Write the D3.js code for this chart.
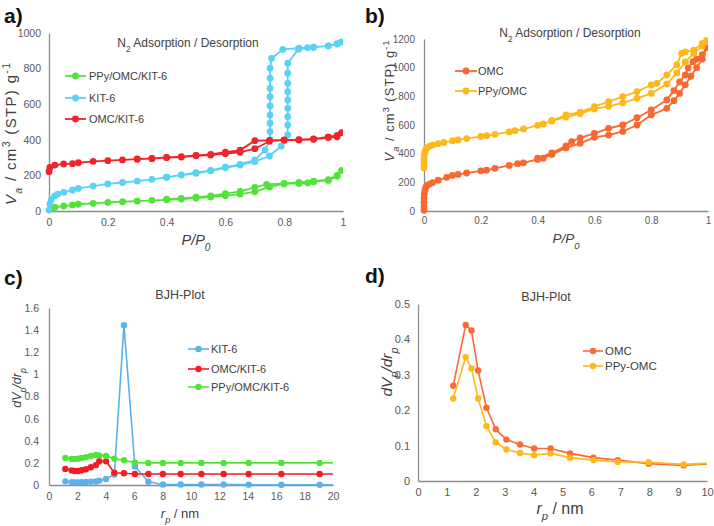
<!DOCTYPE html>
<html><head><meta charset="utf-8">
<script src="https://cdn.jsdelivr.net/npm/d3@7"></script>
<style>
body{margin:0;background:#fff}
svg{display:block}
text{font-family:"Liberation Sans",Arial,sans-serif}
</style>
</head><body>
<svg id="chart" width="714" height="526"></svg>
<script>
// ---------- Panel a: N2 isotherms ----------
const aX = [0, 1];
const aYTicks = [0, 200, 400, 600, 800, 1000];
const aXTicks = [0, 0.2, 0.4, 0.6, 0.8, 1];
const aPPyP = [0.01,0.02,0.05,0.08,0.1,0.15,0.2,0.25,0.3,0.35,0.4,0.45,0.5,0.55,0.6,0.65,0.7,0.75,0.8,0.85,0.88,0.9,0.95,0.98,0.995,
               0.98,0.95,0.9,0.85,0.8,0.74,0.7,0.65,0.6,0.55,0.5,0.45,0.4];
const aPPyV = [15,21,28,34,38,43,48,52,56,60,63,67,72,78,86,95,108,135,152,155,158,165,172,195,228,
               200,176,168,160,155,150,133,110,98,85,78,71,66];
const aKITP = [0,0.003,0.008,0.02,0.03,0.05,0.08,0.1,0.15,0.2,0.25,0.3,0.35,0.4,0.45,0.5,0.55,0.6,0.65,0.7,0.75,0.79,
               0.812,0.812,0.812,0.812,0.812,0.812,0.812,0.812,0.812,0.848,0.88,0.9,0.95,0.98,0.995,
               0.98,0.95,0.9,0.85,0.795,0.757,0.752,0.752,0.752,0.752,0.752,0.752,0.752,0.752,0.752,0.735,0.7,0.65,0.6,0.55,0.5,0.45,0.4];
const aKITV = [5,40,65,85,95,105,118,127,140,152,160,168,178,189,202,212,226,243,258,277,309,365,
               427,483,530,577,624,670,717,774,830,908,918,920,928,940,950,
               938,928,920,915,908,857,802,746,689,642,590,539,493,446,399,343,287,262,247,228,215,203,190];
const aOMCP = [0,0.003,0.02,0.05,0.08,0.1,0.15,0.2,0.25,0.3,0.35,0.4,0.45,0.5,0.55,0.6,0.65,0.7,0.75,0.8,0.85,0.9,0.95,0.98,0.995,
               0.98,0.95,0.9,0.85,0.8,0.75,0.7,0.65,0.6,0.55,0.5,0.45,0.4,0.35,0.3];
const aOMCV = [221,245,258,264,266,271,279,283,287,291,294,300,303,310,314,322,330,350,392,398,399,403,413,417,440,
               425,416,405,401,400,397,395,342,330,318,313,306,301,296,292];

// ---------- Panel b: N2 isotherms ----------
const bYTicks = [0, 200, 400, 600, 800, 1000, 1200];
const bXTicks = [0, 0.2, 0.4, 0.6, 0.8, 1];
const bOMCP = [0,0,0,0,0.001,0.003,0.006,0.01,0.02,0.03,0.05,0.08,0.1,0.12,0.15,0.2,0.22,0.25,0.3,0.33,0.35,0.4,0.42,0.45,0.5,0.55,0.6,0.65,0.7,0.75,0.8,0.855,0.88,0.9,0.92,0.94,0.96,0.98,0.995,
               0.98,0.96,0.947,0.93,0.92,0.9,0.88,0.855,0.8,0.75,0.7,0.65,0.6,0.55,0.52,0.5,0.45,0.4];
const bOMCV = [5,30,60,90,120,145,165,178,188,198,215,235,248,255,265,280,285,298,318,330,336,360,368,395,440,472,514,530,555,600,670,716,770,820,880,940,1000,1060,1140,
               1090,1060,1042,998,949,900,840,775,705,651,600,577,542,510,484,455,405,368];
const bPPyP = [0,0,0,0.001,0.003,0.006,0.01,0.02,0.03,0.05,0.07,0.1,0.12,0.15,0.2,0.22,0.25,0.3,0.32,0.35,0.4,0.42,0.45,0.5,0.55,0.6,0.65,0.7,0.75,0.8,0.855,0.89,0.92,0.95,0.98,0.995,
               0.98,0.95,0.92,0.907,0.89,0.855,0.82,0.8,0.75,0.7,0.65,0.6,0.55,0.5,0.45];
const bPPyV = [300,330,360,390,410,428,440,452,460,470,478,490,496,505,520,525,535,552,560,572,598,607,628,655,680,712,730,755,786,820,886,963,1040,1100,1150,1190,
               1170,1123,1110,1100,1019,949,891,879,833,798,763,728,690,670,630];

// ---------- Panel c: BJH ----------
const cYTicks = [0, 0.2, 0.4, 0.6, 0.8, 1, 1.2, 1.4, 1.6];
const cXTicks = [0, 2, 4, 6, 8, 10, 12, 14, 16, 18, 20];
const cR = [1.15,1.6,1.82,2.05,2.3,2.6,2.95,3.3,3.54,4.02,4.6,5.28,6.05,7.0,8.02,9.27,10.73,12.3,14.06,16.36,19.06,23];
const cKIT = [0.033,0.025,0.024,0.024,0.025,0.027,0.03,0.032,0.04,0.054,0.095,1.445,0.168,0.03,0.004,0.004,0.004,0.004,0.003,0.002,0.002,0.0];
const cOMC = [0.145,0.132,0.126,0.126,0.133,0.143,0.16,0.18,0.215,0.214,0.111,0.106,0.1,0.1,0.1,0.1,0.1,0.1,0.1,0.1,0.1,0.1];
const cPPy = [0.245,0.236,0.236,0.238,0.244,0.252,0.262,0.272,0.268,0.262,0.238,0.224,0.202,0.2,0.2,0.2,0.2,0.2,0.2,0.2,0.2,0.2];

// ---------- Panel d: BJH ----------
const dYTicks = [0, 0.1, 0.2, 0.3, 0.4, 0.5];
const dXTicks = [0,1,2,3,4,5,6,7,8,9,10];
const dR = [1.22,1.65,1.85,2.08,2.37,2.69,3.06,3.53,4.02,4.59,5.26,6.07,6.91,7.98,9.19,10.7];
const dOMC = [0.269,0.441,0.425,0.312,0.207,0.146,0.117,0.103,0.092,0.092,0.078,0.066,0.059,0.049,0.044,0.052];
const dPPy = [0.233,0.350,0.318,0.233,0.155,0.109,0.089,0.079,0.073,0.078,0.066,0.059,0.054,0.053,0.047,0.052];

const svg = d3.select("#chart");
const fmt = d3.format("~g");
let clipId = 0;

function rich(sel, parts) {
  parts.forEach(p => {
    const t = sel.append("tspan").text(p.t);
    if (p.i) t.attr("font-style", "italic");
    if (p.sub) t.attr("baseline-shift", "sub").attr("font-size", "70%");
    if (p.sup) t.attr("baseline-shift", "super").attr("font-size", "70%");
  });
  return sel;
}

function panel(cfg) {
  const x = d3.scaleLinear().domain(cfg.xd).range(cfg.xr);
  const y = d3.scaleLinear().domain(cfg.yd).range(cfg.yr);
  const g = svg.append("g");

  const ya = g.append("g").attr("transform", `translate(${cfg.xr[0]},0)`)
    .call(d3.axisLeft(y).tickValues(cfg.yt).tickFormat(fmt).tickSize(0).tickPadding(cfg.ypad));
  const xa = g.append("g").attr("transform", `translate(0,${cfg.yr[0]})`)
    .call(d3.axisBottom(x).tickValues(cfg.xt).tickFormat(fmt).tickSize(0).tickPadding(cfg.xpad));
  [ya, xa].forEach(a => {
    a.select(".domain").attr("stroke", "#8c8c8c").attr("stroke-width", 1.3);
    a.selectAll("text").attr("fill", "#595959").attr("font-size", cfg.tickFont)
      .attr("font-family", '"Liberation Sans",Arial,sans-serif');
  });

  const id = "clip" + (clipId++);
  g.append("clipPath").attr("id", id).append("rect")
    .attr("x", cfg.xr[0] - 6).attr("y", cfg.yr[1] - 10)
    .attr("width", cfg.xr[1] - cfg.xr[0] + 6).attr("height", cfg.yr[0] - cfg.yr[1] + 16);

  const line = d3.line().x(d => x(d[0])).y(d => y(d[1]));
  const plot = g.append("g").attr("clip-path", `url(#${id})`);
  cfg.series.forEach(s => {
    const pts = s.x.map((v, i) => [v, s.y[i]]);
    plot.append("path").datum(pts).attr("d", line).attr("fill", "none")
      .attr("stroke", s.color).attr("stroke-width", cfg.lw).attr("stroke-linejoin", "round");
    plot.selectAll(null).data(pts.filter(p => p[0] <= cfg.xd[1])).join("circle")
      .attr("cx", d => x(d[0])).attr("cy", d => y(d[1])).attr("r", cfg.mr).attr("fill", s.color);
  });

  cfg.legend.rows.forEach((row, i) => {
    const s = cfg.series.find(t => t.name === row);
    const ly = cfg.legend.ys[i];
    g.append("line").attr("x1", cfg.legend.x0).attr("x2", cfg.legend.x1).attr("y1", ly).attr("y2", ly)
      .attr("stroke", s.color).attr("stroke-width", cfg.lw);
    g.append("circle").attr("cx", (cfg.legend.x0 + cfg.legend.x1) / 2).attr("cy", ly).attr("r", cfg.mr).attr("fill", s.color);
    g.append("text").attr("x", cfg.legend.tx).attr("y", ly).attr("dy", "0.35em")
      .attr("font-size", cfg.legend.font).attr("fill", "#404040").text(row);
  });

  rich(g.append("text").attr("x", cfg.title.x).attr("y", cfg.title.y).attr("text-anchor", "middle")
    .attr("font-size", cfg.title.font).attr("fill", "#404040"), cfg.title.parts);
  rich(g.append("text").attr("x", cfg.xt2.x).attr("y", cfg.xt2.y).attr("text-anchor", "middle")
    .attr("font-size", cfg.xt2.font).attr("fill", "#404040"), cfg.xt2.parts);
  const yt = g.append("text").attr("transform", `translate(${cfg.yt2.x},${cfg.yt2.y}) rotate(-90)`)
    .attr("text-anchor", "middle").attr("font-size", cfg.yt2.font).attr("fill", "#404040");
  if (cfg.yt2.len) yt.attr("textLength", cfg.yt2.len).attr("lengthAdjust", "spacing");
  rich(yt, cfg.yt2.parts);
  g.append("text").attr("x", cfg.lab.x).attr("y", cfg.lab.y).attr("font-size", 21)
    .attr("font-weight", "bold").attr("fill", "#111").text(cfg.lab.t);
}

const vaParts = [{t:"V", i:1},{t:"a", i:1, sub:1},{t:" / cm"},{t:"3", sup:1},{t:" (STP) g"},{t:"-1", sup:1}];
const ppParts = [{t:"P/P", i:1},{t:"0", i:1, sub:1}];
const n2Parts = [{t:"N"},{t:"2", sub:1},{t:" Adsorption / Desorption"}];
const rpParts = [{t:"r", i:1},{t:"p", i:1, sub:1},{t:" / nm"}];
const dvParts = [{t:"dV", i:1},{t:"p", i:1, sub:1},{t:"/dr", i:1},{t:"p", i:1, sub:1}];

panel({
  xd: aX, xr: [49, 343], yd: [0, 1000], yr: [211, 33], xt: aXTicks, yt: aYTicks,
  ypad: 8, xpad: 8, tickFont: 10.5, lw: 1.8, mr: 3.4,
  series: [
    {name: "PPy/OMC/KIT-6", x: aPPyP, y: aPPyV, color: "#52E33A"},
    {name: "KIT-6", x: aKITP, y: aKITV, color: "#5AD2F4"},
    {name: "OMC/KIT-6", x: aOMCP, y: aOMCV, color: "#F2232B"}
  ],
  legend: {rows: ["PPy/OMC/KIT-6", "KIT-6", "OMC/KIT-6"], ys: [76, 98, 119], x0: 65, x1: 86, tx: 89, font: 11},
  title: {x: 188, y: 47, font: 12, parts: n2Parts},
  xt2: {x: 196, y: 245, font: 14.5, parts: ppParts},
  yt2: {x: 16, y: 134, font: 15, len: 142, parts: vaParts},
  lab: {x: 4, y: 23, t: "a)"}
});

panel({
  xd: aX, xr: [424, 708], yd: [0, 1200], yr: [211, 39], xt: bXTicks, yt: bYTicks,
  ypad: 9, xpad: 6, tickFont: 10, lw: 1.8, mr: 3.4,
  series: [
    {name: "OMC", x: bOMCP, y: bOMCV, color: "#FB6731"},
    {name: "PPy/OMC", x: bPPyP, y: bPPyV, color: "#FFB81C"}
  ],
  legend: {rows: ["OMC", "PPy/OMC"], ys: [71, 91], x0: 455, x1: 477, tx: 478, font: 11},
  title: {x: 570, y: 37, font: 12, parts: n2Parts},
  xt2: {x: 566, y: 243, font: 13.5, parts: ppParts},
  yt2: {x: 394, y: 101, font: 13, len: 121, parts: vaParts},
  lab: {x: 365, y: 23, t: "b)"}
});

panel({
  xd: [0, 20], xr: [49, 333], yd: [0, 1.6], yr: [485, 308], xt: cXTicks, yt: cYTicks,
  ypad: 10, xpad: 8, tickFont: 10.5, lw: 1.6, mr: 3.2,
  series: [
    {name: "KIT-6", x: cR, y: cKIT, color: "#5CB1EC"},
    {name: "OMC/KIT-6", x: cR, y: cOMC, color: "#F21C24"},
    {name: "PPy/OMC/KIT-6", x: cR, y: cPPy, color: "#52E33A"}
  ],
  legend: {rows: ["KIT-6", "OMC/KIT-6", "PPy/OMC/KIT-6"], ys: [349, 369, 387], x0: 188, x1: 209, tx: 211, font: 11},
  title: {x: 180, y: 299, font: 12.5, parts: [{t: "BJH-Plot"}]},
  xt2: {x: 180, y: 518, font: 13, parts: rpParts},
  yt2: {x: 21, y: 388, font: 12.5, parts: dvParts},
  lab: {x: 4, y: 285, t: "c)"}
});

panel({
  xd: [0, 10], xr: [418, 707], yd: [0, 0.5], yr: [481, 304], xt: dXTicks, yt: dYTicks,
  ypad: 8, xpad: 7, tickFont: 11, lw: 1.6, mr: 3.2,
  series: [
    {name: "OMC", x: dR, y: dOMC, color: "#FB6A36"},
    {name: "PPy-OMC", x: dR, y: dPPy, color: "#FFB71A"}
  ],
  legend: {rows: ["OMC", "PPy-OMC"], ys: [351, 366], x0: 583, x1: 603, tx: 605, font: 11.5},
  title: {x: 546, y: 301, font: 12.5, parts: [{t: "BJH-Plot"}]},
  xt2: {x: 560, y: 514, font: 16, parts: rpParts},
  yt2: {x: 392, y: 372, font: 15.5, parts: dvParts},
  lab: {x: 365, y: 283, t: "d)"}
});
</script>
</body></html>
